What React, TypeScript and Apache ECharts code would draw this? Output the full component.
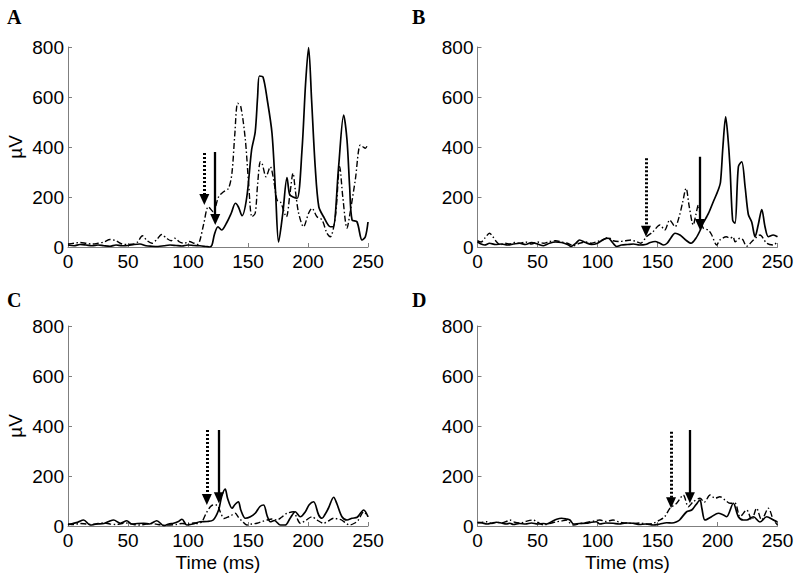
import React, { useEffect, useRef } from "react";
import * as echarts from "echarts";

// ---------- Panel A ----------
const aSolidT = [0, 5, 10, 15, 20, 25, 30, 35, 40, 45, 50, 55, 60, 65, 70, 75, 80, 85, 90, 95, 100, 105, 110, 115, 118, 120, 122, 125, 128, 132, 136, 139.5, 142, 145, 149, 153, 156, 158, 159.5, 162.5, 166, 170, 173, 175.5, 179, 182.5, 184.7, 187.5, 191, 195, 198, 200.5, 203, 206, 209, 213, 218.6, 221, 225.5, 229.7, 232.5, 234.7, 236.7, 240.8, 245, 247.8, 250];
const aSolidV = [8, 5, 10, 8, 5, 8, 5, 3, 8, 5, 6, 10, 12, 5, 3, 2, 5, 8, 6, 4, 8, 6, 5, 2, 0, 8, 50, 81, 68, 95, 135, 175, 160, 125, 200, 388, 460, 600, 684, 680, 590, 455, 215, 20, 135, 278, 210, 200, 195, 388, 655, 798, 588, 321, 161, 121, 81, 81, 321, 528, 428, 241, 108, 101, 28, 41, 100];
const aDashT = [0, 5, 10, 15, 20, 25, 30, 35, 40, 45, 50, 55, 58, 62, 66, 70, 74, 78, 82, 86, 89, 93, 97, 101, 105, 108, 110, 113, 117, 121, 125.5, 129.7, 133.8, 136.6, 139, 141.4, 144, 147.8, 150.5, 153.3, 156, 158, 160.3, 162, 165, 168.6, 171.4, 174.2, 177, 181.9, 185, 187.5, 189.4, 192.2, 196.3, 200.5, 203.3, 207.5, 211.7, 215.8, 218.6, 222.8, 226.4, 229, 232.5, 235, 239.4, 243.6, 246, 247.8, 250];
const aDashV = [12, 15, 18, 15, 12, 15, 20, 30, 25, 12, 10, 12, 20, 45, 25, 15, 30, 50, 35, 25, 35, 20, 15, 22, 15, 10, 28, 90, 161, 141, 201, 221, 235, 295, 450, 575, 561, 428, 255, 121, 135, 250, 341, 330, 281, 321, 268, 188, 181, 121, 215, 295, 228, 135, 81, 135, 155, 121, 108, 55, 41, 121, 321, 200, 75, 135, 268, 408, 400, 395, 412];

// ---------- Panel B ----------
const bSolidT = [0, 3, 6, 10, 15, 20, 25, 30, 35, 40, 45, 50, 55, 60, 65, 70, 75, 78, 82, 85, 90, 95, 100, 105, 109, 113, 116, 120, 125, 130, 135, 140, 144, 148, 152, 155, 158, 161, 164.6, 168.7, 173, 178, 182, 185.4, 188, 191, 193, 196.5, 200.6, 202.5, 204.5, 206.8, 208.5, 210.4, 212.6, 214.6, 217.4, 220.2, 223, 225.7, 228.5, 231.3, 234, 236.9, 239.6, 242.4, 246.5, 250];
const bSolidV = [20, 12, 8, 15, 10, 12, 8, 12, 15, 10, 18, 12, 5, 15, 20, 18, 10, 2, 15, 28, 18, 10, 15, 30, 35, 15, 2, 8, 10, 12, 8, 10, 18, 22, 15, 8, 15, 35, 55, 48, 30, 15, 35, 65, 95, 121, 140, 181, 228, 260, 400, 521, 450, 321, 108, 95, 321, 341, 241, 130, 100, 41, 90, 150, 81, 41, 48, 41];
const bDashT = [0, 3, 6, 10, 13, 16, 19, 23, 27, 31, 35, 40, 45, 50, 55, 60, 65, 70, 75, 80, 85, 90, 95, 100, 105, 109, 113, 118, 123, 128, 132, 136, 140.8, 146, 152, 156, 160.2, 164.6, 168, 171, 173.8, 176.5, 179.8, 182, 184, 186, 188.2, 192.3, 195, 199.3, 202, 207.5, 210.4, 213, 214.6, 218.8, 221, 224.3, 229.9, 235.4, 241, 246.5, 250];
const bDashV = [25, 20, 35, 55, 40, 20, 8, 15, 12, 18, 15, 20, 12, 20, 15, 22, 25, 20, 15, 5, 15, 20, 15, 22, 30, 38, 25, 22, 25, 28, 22, 15, 41, 60, 88, 68, 108, 81, 120, 180, 235, 160, 88, 130, 168, 110, 75, 68, 50, 8, 28, 41, 35, 41, 21, 35, 30, 3, 28, 48, 15, 8, 21];

// ---------- Panel C ----------
const cSolidT = [0, 4, 8, 13, 18.6, 24, 30, 34, 38, 43.6, 49, 53, 58, 63, 68, 74, 80, 84, 88, 92, 95, 99, 104, 110, 116, 121, 125.5, 128, 131, 133, 136.7, 139, 142, 144, 147.8, 152, 156, 160, 163, 166, 168.6, 172, 177, 181, 185, 189.4, 193.6, 197.8, 201, 204.7, 208.9, 211.7, 214, 217, 221.4, 224, 228.3, 232.5, 236.7, 241, 246.4, 250];
const cSolidV = [5, 10, 15, 24, 4, 8, 10, 18, 24, 11, 21, 8, 10, 11, 8, 21, 1, 8, 11, 18, 27, 4, 8, 17, 18, 24, 64, 117, 148, 110, 71, 85, 97, 64, 31, 37, 51, 78, 84, 40, 17, 22, 4, 4, 30, 57, 37, 57, 85, 97, 44, 31, 45, 71, 115, 90, 37, 24, 31, 35, 64, 37];
const cDashT = [0, 5, 10, 15, 20, 25, 30, 35, 40, 45, 50, 55, 60, 65, 70, 75, 80, 85, 90, 95, 100, 105, 108, 111.6, 115, 118.6, 121, 124.2, 127, 130, 133.8, 137, 139.4, 142, 145, 149, 153, 157.5, 162, 166, 170, 174, 178, 182.5, 188, 190.5, 193.6, 198, 203.3, 207.5, 213, 217, 221.4, 225, 228, 232, 235, 239, 242, 246.4, 250];
const cDashV = [8, 6, 10, 8, 6, 10, 12, 8, 6, 10, 12, 6, 4, 8, 10, 6, 3, 4, 6, 10, 8, 12, 10, 17, 50, 77, 84, 84, 55, 30, 37, 45, 51, 35, 20, 4, 8, 11, 18, 24, 28, 24, 35, 51, 57, 35, 11, 22, 37, 24, 11, 20, 31, 28, 24, 10, 4, 12, 24, 57, 37];

// ---------- Panel D ----------
const dSolidT = [0, 4, 8, 12, 16, 20, 24, 27, 30, 35, 40, 45, 50, 55, 57.6, 62, 66, 70, 74, 77, 80, 85, 91, 95, 99, 102, 107, 113, 118, 124, 130, 135, 140, 146.5, 152, 157.6, 162, 166, 168.4, 174.3, 178.5, 182, 185.4, 187, 189.6, 195, 200.7, 204.9, 207.6, 213.2, 217.4, 221.5, 224.3, 229.9, 235.4, 241, 246.6, 250];
const dSolidV = [15, 12, 8, 12, 15, 12, 8, 11, 6, 10, 8, 12, 8, 10, 8, 18, 27, 31, 28, 24, 8, 10, 11, 15, 17, 8, 12, 11, 8, 12, 11, 6, 8, 4, 8, 13, 12, 17, 24, 57, 64, 85, 104, 70, 24, 37, 51, 44, 37, 91, 37, 24, 24, 37, 16, 37, 24, 16];
const dDashT = [0, 4, 7.6, 12, 16, 20, 24, 27, 31, 36, 40, 46.5, 50, 55, 60, 66, 70, 74, 77, 80, 86, 92, 97, 102, 107, 113, 118, 124, 130, 136, 141, 146.5, 152, 156, 160.4, 166, 171.5, 175.7, 179.8, 185.4, 189, 193.8, 198, 202, 206.2, 210.4, 214.6, 218.8, 224.3, 228.5, 232.6, 236.8, 242.4, 246.6, 250];
const dDashV = [12, 15, 17, 10, 15, 12, 18, 24, 15, 12, 18, 24, 15, 5, 10, 17, 20, 24, 12, 4, 10, 15, 20, 24, 18, 24, 15, 12, 10, 12, 8, 11, 24, 37, 71, 91, 124, 77, 97, 111, 95, 124, 111, 117, 104, 91, 91, 37, 64, 24, 71, 24, 71, 24, 4];

// ---------- Onset arrows: [time, top value, tip value] ----------
const dottedArrows = [
  [113.6, 376, 168],
  [140.4, 355, 41],
  [115.7, 384, 84],
  [161.3, 377, 71],
];
const solidArrows = [
  [122.7, 380, 88],
  [185.4, 361, 68],
  [125.7, 384, 91],
  [177.0, 384, 91],
];

const panelLetters = ["A", "B", "C", "D"];
const xTicks = { min: 0, max: 250, interval: 50 };
const yTicks = { min: 0, max: 800, interval: 200 };

const solidSeries = [
  [aSolidT, aSolidV],
  [bSolidT, bSolidV],
  [cSolidT, cSolidV],
  [dSolidT, dSolidV],
];
const dashSeries = [
  [aDashT, aDashV],
  [bDashT, bDashV],
  [cDashT, cDashV],
  [dDashT, dDashV],
];

const zip = (t: number[], v: number[]) => t.map((x, i) => [x, v[i]]);

const FONT = '"Liberation Sans", Arial, Helvetica, sans-serif';
const AXIS_GRAY = "#7f7f7f";

const HEAD_HALF = 22; // half arrowhead height (≈5.5px) in value units

export default function App() {
  const ref = useRef<HTMLDivElement>(null);

  useEffect(() => {
    if (!ref.current) return;
    const chart = echarts.init(ref.current, null, { renderer: "svg" });

    const grids = [
      { left: 68, top: 47, width: 300, height: 200 },
      { left: 477.5, top: 47, width: 300, height: 200 },
      { left: 68, top: 326, width: 300, height: 200 },
      { left: 477.5, top: 326, width: 300, height: 200 },
    ];

    const xAxes = grids.map((_, i) => ({
      gridIndex: i,
      type: "value",
      min: xTicks.min,
      max: xTicks.max,
      interval: xTicks.interval,
      axisLine: { show: true, onZero: false, lineStyle: { color: AXIS_GRAY, width: 1 } },
      axisTick: { show: true, inside: true, length: 4, lineStyle: { color: AXIS_GRAY } },
      splitLine: { show: false },
      axisLabel: { color: "#000", fontSize: 19, fontFamily: FONT, margin: 5 },
      name: i >= 2 ? "Time (ms)" : "",
      nameLocation: "middle",
      nameGap: 27,
      nameTextStyle: { color: "#000", fontSize: 19, fontFamily: FONT },
    }));

    const yAxes = grids.map((_, i) => ({
      gridIndex: i,
      type: "value",
      min: yTicks.min,
      max: yTicks.max,
      interval: yTicks.interval,
      axisLine: { show: true, onZero: false, lineStyle: { color: AXIS_GRAY, width: 1 } },
      axisTick: { show: true, inside: true, length: 4, lineStyle: { color: AXIS_GRAY } },
      splitLine: { show: false },
      axisLabel: { color: "#000", fontSize: 19, fontFamily: FONT, margin: 4 },
      name: i % 2 === 0 ? "µV" : "",
      nameLocation: "middle",
      nameGap: 43,
      nameTextStyle: { color: "#000", fontSize: 19, fontFamily: FONT },
    }));

    const series: any[] = [];
    grids.forEach((_, i) => {
      const [dt, dtop, dtip] = dottedArrows[i];
      const [st, stop, stip] = solidArrows[i];
      series.push({
        type: "line",
        xAxisIndex: i,
        yAxisIndex: i,
        data: zip(dashSeries[i][0], dashSeries[i][1]),
        showSymbol: false,
        smooth: 0.3,
        lineStyle: { color: "#000", width: 1.4, type: [6, 2.5, 1.5, 2.5] },
        silent: true,
      });
      series.push({
        type: "line",
        xAxisIndex: i,
        yAxisIndex: i,
        data: zip(solidSeries[i][0], solidSeries[i][1]),
        showSymbol: false,
        smooth: 0.3,
        lineStyle: { color: "#000", width: 1.7 },
        silent: true,
        markLine: {
          silent: true,
          animation: false,
          symbol: ["none", "triangle"],
          symbolSize: [10, 11],
          label: { show: false },
          emphasis: { disabled: true },
          itemStyle: { color: "#000" },
          lineStyle: { color: "#000" },
          data: [
            [
              { coord: [dt, dtop], lineStyle: { color: "#000", type: [2, 2], width: 3 } },
              { coord: [dt, dtip + HEAD_HALF] },
            ],
            [
              { coord: [st, stop], lineStyle: { color: "#000", type: "solid", width: 2.3 } },
              { coord: [st, stip + HEAD_HALF] },
            ],
          ],
        },
      });
    });

    const letterPos = [
      [7, 7],
      [412, 7],
      [7, 290],
      [412, 290],
    ];

    chart.setOption({
      animation: false,
      backgroundColor: "#fff",
      grid: grids,
      xAxis: xAxes,
      yAxis: yAxes,
      series,
      graphic: panelLetters.map((L, i) => ({
        type: "text",
        x: letterPos[i][0],
        y: letterPos[i][1],
        silent: true,
        style: {
          text: L,
          font: 'bold 20px "Liberation Serif", "Times New Roman", serif',
          fill: "#000",
          align: "left",
          verticalAlign: "top",
        },
      })),
    });

    return () => chart.dispose();
  }, []);

  return (
    <div
      ref={ref}
      style={{ position: "absolute", left: 0, top: 0, width: 800, height: 581, background: "#fff" }}
    />
  );
}
